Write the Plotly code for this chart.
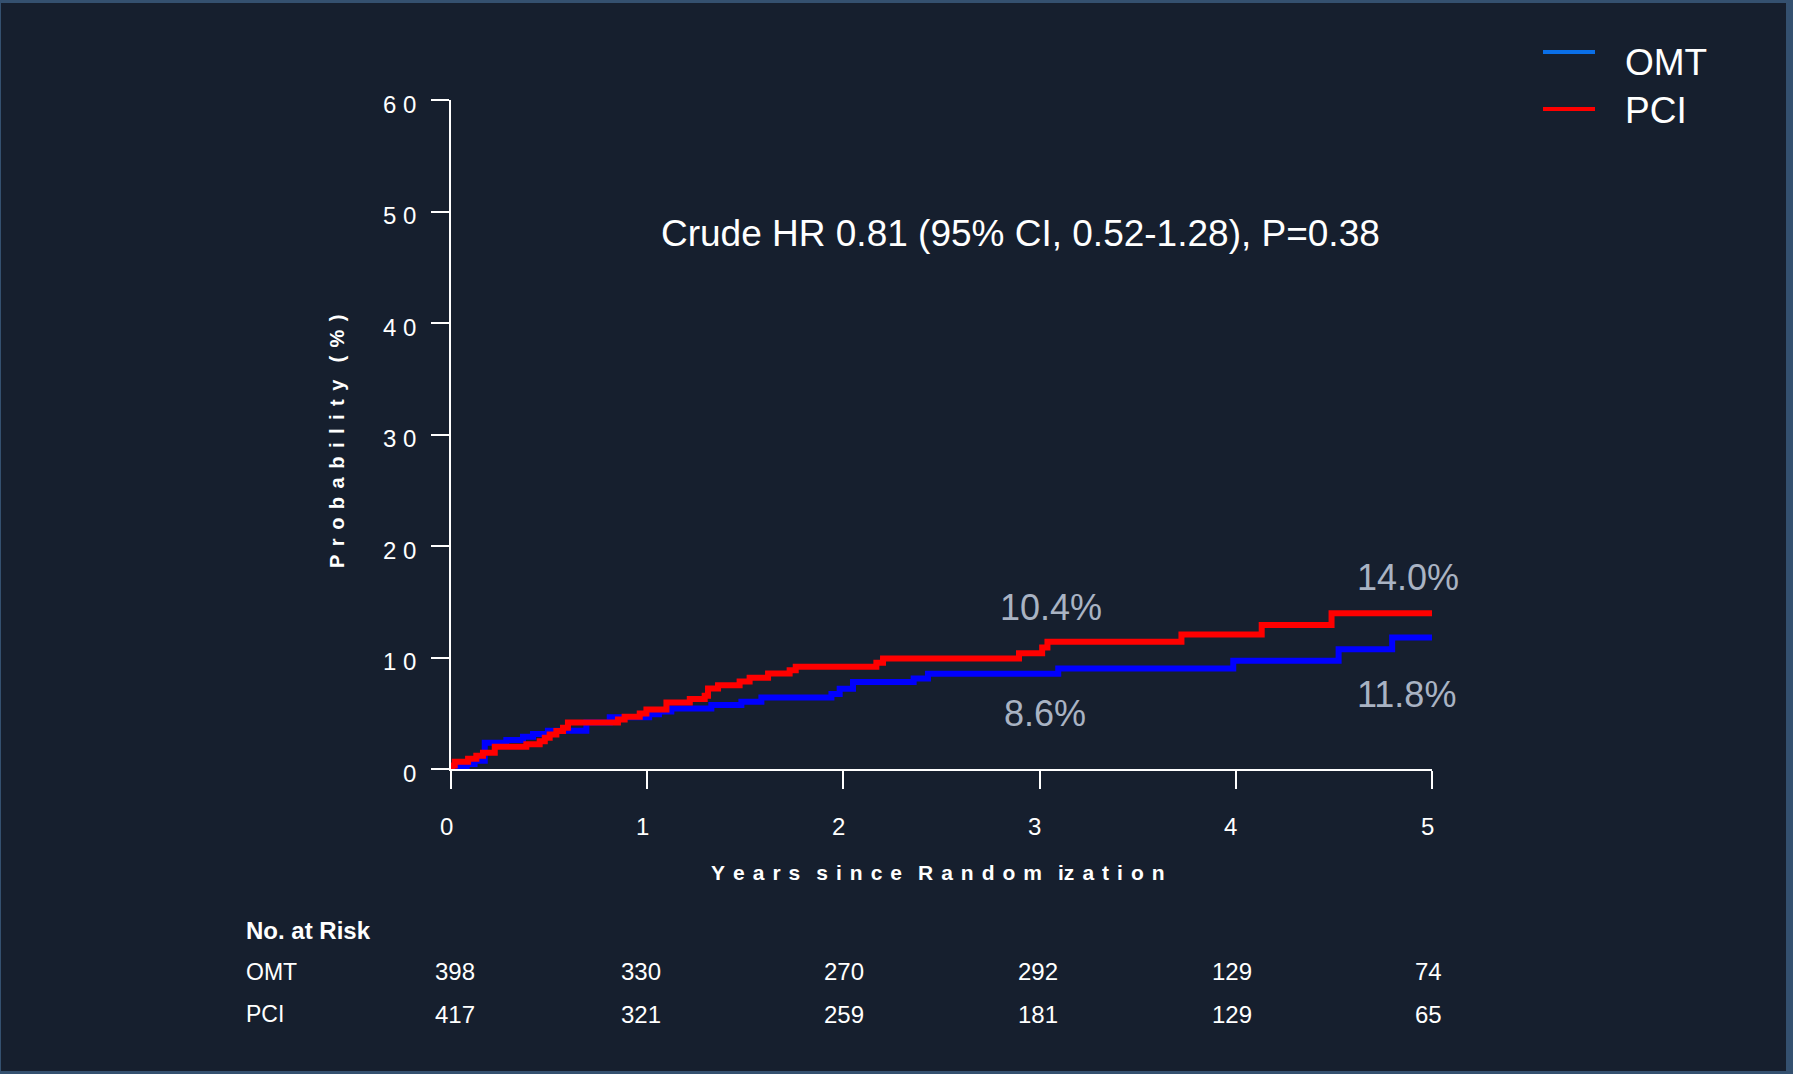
import plotly.graph_objects as go

# ---------------- data ----------------
omt_time = [0, 0.02, 0.08, 0.12, 0.172, 0.282, 0.367, 0.418, 0.494, 0.69, 0.809, 1.01, 1.06,
            1.123, 1.327, 1.48, 1.582, 1.939, 1.981, 2.049, 2.358, 2.431, 3.095, 3.987, 4.524,
            4.797, 5.0]
omt_value = [0, 0.2, 0.45, 0.75, 2.35, 2.59, 2.89, 3.13, 3.43, 4.17, 4.65, 4.9, 5.15,
             5.43, 5.73, 6.03, 6.42, 6.72, 7.2, 7.8, 8.12, 8.54, 9.02, 9.71, 10.73,
             11.8, 11.8]

pci_time = [0, 0.005, 0.019, 0.087, 0.129, 0.163, 0.223, 0.384, 0.452, 0.478, 0.503, 0.537,
            0.571, 0.596, 0.851, 0.885, 0.962, 0.996, 1.098, 1.217, 1.293, 1.31, 1.361, 1.471,
            1.522, 1.616, 1.726, 1.757, 2.168, 2.202, 2.895, 3.013, 3.04, 3.723, 4.132, 4.488,
            5.0]
pci_value = [0, 0.31, 0.64, 0.91, 1.18, 1.45, 1.99, 2.23, 2.5, 2.8, 3.1, 3.4,
             3.7, 4.17, 4.44, 4.68, 4.98, 5.34, 5.97, 6.27, 6.57, 7.23, 7.52, 7.85,
             8.18, 8.57, 8.85, 9.17, 9.53, 9.92, 10.37, 10.9, 11.42, 12.07, 12.91, 13.96,
             13.96]

x_ticks = [0, 1, 2, 3, 4, 5]
x_tick_labels = ["0", "1", "2", "3", "4", "5"]
y_ticks = [0, 10, 20, 30, 40, 50, 60]
y_tick_labels = ["0", "1 0", "2 0", "3 0", "4 0", "5 0", "6 0"]

risk_years = [0, 1, 2, 3, 4, 5]
risk_omt = [398, 330, 270, 292, 129, 74]
risk_pci = [417, 321, 259, 181, 129, 65]

pct_labels = ["10.4%", "8.6%", "14.0%", "11.8%"]
pct_x = [3.056, 3.026, 4.876, 4.868]
pct_y = [14.5, 4.94, 17.15, 6.69]

hr_text = "Crude HR 0.81 (95% CI, 0.52-1.28), P=0.38"
x_title_words = ["Years", "since", "Random", "iz|a|t|i|o|n"]
y_title_words = ["Probability", "(%)"]

# ---------------- layout geometry / styles ----------------
W, H = 1793, 1074
ML, MR, MT, MB = 451, 361, 100, 305
PW, PH = W - ML - MR, H - MT - MB
risk_col_shift = [4, -6, 1, -2, -4, -4]   # pixel nudges of the risk-table columns

def px(x):
    return (x - ML) / PW

def py(y):
    return (H - MB - y) / PH

def spaced(words, gap_px):
    gap = '<span style="font-size:%dpx">\u2002</span>' % gap_px
    out = []
    for w in words:
        units = w.split("|") if "|" in w else list(w)
        out.append(gap.join(units))
    return (gap + gap).join(out)

BG = "#161f2e"
BORDER = "#34506f"
FONT = "Arial, Liberation Sans, sans-serif"

fig = go.Figure()
fig.add_trace(go.Scatter(x=omt_time, y=omt_value, mode="lines", line_shape="hv",
                         line=dict(color="#0000ff", width=6), showlegend=False, name="OMT"))
fig.add_trace(go.Scatter(x=pci_time, y=pci_value, mode="lines", line_shape="hv",
                         line=dict(color="#ff0000", width=6), showlegend=False, name="PCI"))

ann = []
# tick labels (placed through the axes' scales)
for v, t in zip(x_ticks, x_tick_labels):
    ann.append(dict(x=v, y=py(826), xref="x", yref="paper", text=t, showarrow=False,
                    xanchor="center", yanchor="middle", xshift=-5,
                    font=dict(family=FONT, size=24, color="white")))
for v, t in zip(y_ticks, y_tick_labels):
    ann.append(dict(x=px(418), y=v, xref="paper", yref="y", text=t, showarrow=False,
                    xanchor="right", yanchor="middle", yshift=-4,
                    font=dict(family=FONT, size=24, color="white")))
# HR text
ann.append(dict(x=px(1020), y=py(233), xref="paper", yref="paper", text=hr_text,
                showarrow=False, xanchor="center", yanchor="middle",
                font=dict(family=FONT, size=37, color="white")))
# percent labels
for t, xv, yv in zip(pct_labels, pct_x, pct_y):
    ann.append(dict(x=xv, y=yv, xref="x", yref="y", text=t, showarrow=False,
                    xanchor="center", yanchor="middle",
                    font=dict(family=FONT, size=36, color="#a9b3c3")))
# axis titles
ann.append(dict(x=px(938), y=py(872), xref="paper", yref="paper",
                text="<b>" + spaced(x_title_words, 16) + "</b>",
                showarrow=False, xanchor="center", yanchor="middle",
                font=dict(family=FONT, size=21, color="white")))
ann.append(dict(x=px(337), y=py(441), xref="paper", yref="paper",
                text="<b>" + spaced(y_title_words, 17) + "</b>",
                showarrow=False, xanchor="center", yanchor="middle", textangle=-90,
                font=dict(family=FONT, size=20, color="white")))
# legend
legend_items = [("OMT", "#0a6fe8", 52, 63), ("PCI", "#ff0000", 109, 111)]
shapes = [dict(type="rect", xref="paper", yref="paper", x0=px(1), x1=px(1786), y0=py(1071), y1=py(3),
               fillcolor=BG, line=dict(width=0), layer="below")]
for name, col, ly, ty in legend_items:
    shapes.append(dict(type="line", xref="paper", yref="paper", x0=px(1543), x1=px(1595),
                       y0=py(ly), y1=py(ly), line=dict(color=col, width=4)))
    ann.append(dict(x=px(1623), y=py(ty), xref="paper", yref="paper", text=name, showarrow=False,
                    xanchor="left", yanchor="middle", font=dict(family=FONT, size=37, color="white")))
# number at risk table
ann.append(dict(x=px(244), y=py(930), xref="paper", yref="paper", text="<b>No. at Risk</b>",
                showarrow=False, xanchor="left", yanchor="middle",
                font=dict(family=FONT, size=24, color="white")))
for label, vals, ypix in [("OMT", risk_omt, 972), ("PCI", risk_pci, 1014)]:
    ann.append(dict(x=px(244), y=py(ypix), xref="paper", yref="paper", text=label,
                    showarrow=False, xanchor="left", yanchor="middle",
                    font=dict(family=FONT, size=23, color="white")))
    for yr, v, sh in zip(risk_years, vals, risk_col_shift):
        ann.append(dict(x=yr, y=py(ypix), xref="x", yref="paper", text=str(v),
                        showarrow=False, xanchor="center", yanchor="middle", xshift=sh,
                        font=dict(family=FONT, size=24, color="white")))

fig.update_layout(
    width=W, height=H, autosize=False,
    margin=dict(l=ML, r=MR, t=MT, b=MB, pad=0),
    paper_bgcolor=BORDER, plot_bgcolor="rgba(0,0,0,0)",
    showlegend=False,
    annotations=ann, shapes=shapes,
    xaxis=dict(range=[0, 5], tickvals=x_ticks, showticklabels=False, showgrid=False,
               zeroline=False, showline=True, linecolor="white", linewidth=2,
               ticks="outside", ticklen=18, tickwidth=2, tickcolor="white"),
    yaxis=dict(range=[0, 60], tickvals=y_ticks, showticklabels=False, showgrid=False,
               zeroline=False, showline=True, linecolor="white", linewidth=2,
               ticks="outside", ticklen=18, tickwidth=2, tickcolor="white"),
)

fig.write_html("out.html", config={"displayModeBar": False},
               post_script="document.body.style.margin='0';document.body.style.overflow='hidden';")
